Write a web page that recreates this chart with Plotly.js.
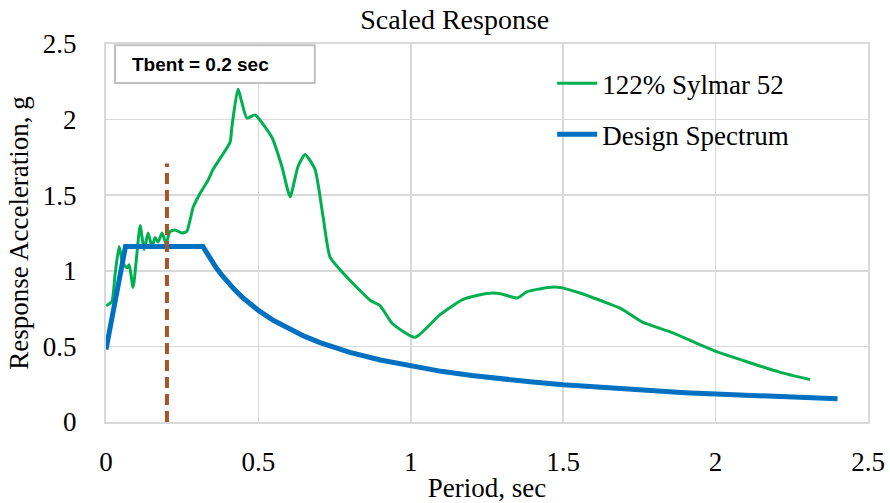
<!DOCTYPE html>
<html>
<head>
<meta charset="utf-8">
<script src="https://cdn.plot.ly/plotly-3.0.1.min.js"></script>
<style>html,body{margin:0;padding:0;background:#fff;}#chart{width:890px;height:503px;}</style>
</head>
<body>
<div id="chart"></div>
<script>
// Green series: 122% Sylmar 52 (period, sec / acceleration, g)
const sylmarPeriod = [0, 0.01, 0.02, 0.03, 0.043, 0.055, 0.069, 0.076, 0.089, 0.112, 0.125, 0.138, 0.151, 0.161, 0.171, 0.184, 0.197, 0.21, 0.226, 0.249, 0.265, 0.286, 0.308, 0.335, 0.351, 0.407, 0.413, 0.433, 0.462, 0.489, 0.545, 0.577, 0.604, 0.63, 0.653, 0.686, 0.712, 0.735, 0.78, 0.833, 0.87, 0.899, 0.94, 1.014, 1.096, 1.17, 1.25, 1.29, 1.35, 1.38, 1.45, 1.49, 1.56, 1.64, 1.69, 1.76, 1.86, 1.95, 2.01, 2.10, 2.21, 2.31];
const sylmarAccel  = [0.77, 0.78, 0.80, 0.98, 1.16, 1.05, 1.02, 1.04, 0.89, 1.30, 1.14, 1.25, 1.16, 1.22, 1.19, 1.25, 1.18, 1.26, 1.27, 1.25, 1.26, 1.42, 1.51, 1.60, 1.67, 1.85, 1.95, 2.20, 2.01, 2.03, 1.88, 1.69, 1.49, 1.69, 1.77, 1.67, 1.36, 1.09, 0.98, 0.87, 0.80, 0.77, 0.65, 0.56, 0.71, 0.81, 0.85, 0.85, 0.82, 0.86, 0.89, 0.89, 0.85, 0.79, 0.75, 0.66, 0.59, 0.51, 0.46, 0.40, 0.33, 0.28];

// Blue series: Design Spectrum
const designPeriod = [0, 0.064, 0.318, 0.33, 0.34, 0.36, 0.38, 0.40, 0.42, 0.45, 0.48, 0.5, 0.55, 0.6, 0.65, 0.7, 0.75, 0.8, 0.9, 1.0, 1.1, 1.2, 1.3, 1.4, 1.5, 1.6, 1.7, 1.8, 1.9, 2.0, 2.1, 2.2, 2.3, 2.4];
const designAccel  = [0.48, 1.16, 1.16, 1.118, 1.085, 1.025, 0.971, 0.923, 0.879, 0.82, 0.769, 0.738, 0.671, 0.615, 0.568, 0.527, 0.492, 0.461, 0.41, 0.369, 0.335, 0.3075, 0.284, 0.264, 0.246, 0.231, 0.217, 0.205, 0.194, 0.185, 0.176, 0.168, 0.160, 0.154];

// Tbent marker line
const tbentPeriod = [0.2, 0.2];
const tbentAccel  = [0, 1.71];

const xTicks = [0, 0.5, 1, 1.5, 2, 2.5];
const yTicks = [0, 0.5, 1, 1.5, 2, 2.5];

const serif = '"Liberation Serif", "Times New Roman", serif';

const traces = [
  {
    x: sylmarPeriod, y: sylmarAccel, type: 'scatter', mode: 'lines',
    name: '122% Sylmar 52', legendgroup: 'a',
    line: {color: '#00B050', width: 3, shape: 'spline', smoothing: 0.5}
  },
  {
    x: designPeriod, y: designAccel, type: 'scatter', mode: 'lines',
    name: 'Design Spectrum', legendgroup: 'b',
    line: {color: '#0070C0', width: 5}
  },
  {
    x: tbentPeriod, y: tbentAccel, type: 'scatter', mode: 'lines',
    showlegend: false, hoverinfo: 'skip',
    line: {color: '#A5552A', width: 4, dash: '11px,6px'}
  }
];

const layout = {
  width: 890, height: 503,
  margin: {l: 106, r: 22, t: 44, b: 81},
  paper_bgcolor: '#fff', plot_bgcolor: '#fff',
  font: {family: serif, color: '#000', size: 27},
  title: {text: 'Scaled Response', font: {family: serif, size: 28, color: '#000'},
          x: 0.511, xanchor: 'center', y: 0.962, yanchor: 'middle', yref: 'container'},
  xaxis: {
    range: [0, 2.5], tickvals: xTicks, ticktext: xTicks.map(String),
    showgrid: true, gridcolor: '#d9d9d9', gridwidth: 1.5,
    showline: true, linecolor: '#d9d9d9', linewidth: 2, mirror: true,
    zeroline: false, ticks: 'outside', ticklen: 15, tickcolor: 'rgba(0,0,0,0)',
    tickfont: {family: serif, size: 27, color: '#000'},
    title: {text: 'Period, sec', font: {family: serif, size: 27, color: '#000'}, standoff: 4}
  },
  yaxis: {
    range: [0, 2.5], tickvals: yTicks, ticktext: yTicks.map(String),
    showgrid: true, gridcolor: '#d9d9d9', gridwidth: 1.5,
    showline: true, linecolor: '#d9d9d9', linewidth: 2, mirror: true,
    zeroline: false, ticks: 'outside', ticklen: 22, tickcolor: 'rgba(0,0,0,0)',
    tickfont: {family: serif, size: 27, color: '#000'},
    title: {text: 'Response Acceleration, g', font: {family: serif, size: 27, color: '#000'}, standoff: 6}
  },
  showlegend: true,
  legend: {
    x: 0.5855, y: 0.960, xanchor: 'left', yanchor: 'top',
    bgcolor: 'rgba(0,0,0,0)', borderwidth: 0,
    font: {family: serif, size: 27, color: '#000'},
    traceorder: 'grouped', tracegroupgap: 13, itemwidth: 40
  },
  shapes: [
    {type: 'rect', xref: 'paper', yref: 'paper', x0: 0.0118, x1: 0.274, y0: 0.897, y1: 0.997,
     line: {color: '#c0c0c0', width: 2}, fillcolor: '#fff', layer: 'above'}
  ],
  annotations: [
    {xref: 'paper', yref: 'paper', x: 0.0315, y: 0.947, xanchor: 'left', yanchor: 'middle',
     text: '<b>Tbent = 0.2 sec</b>', showarrow: false,
     font: {family: '"Liberation Sans", Arial, sans-serif', size: 19, color: '#000'}}
  ]
};

Plotly.newPlot('chart', traces, layout, {displayModeBar: false, staticPlot: true});
</script>
</body>
</html>
